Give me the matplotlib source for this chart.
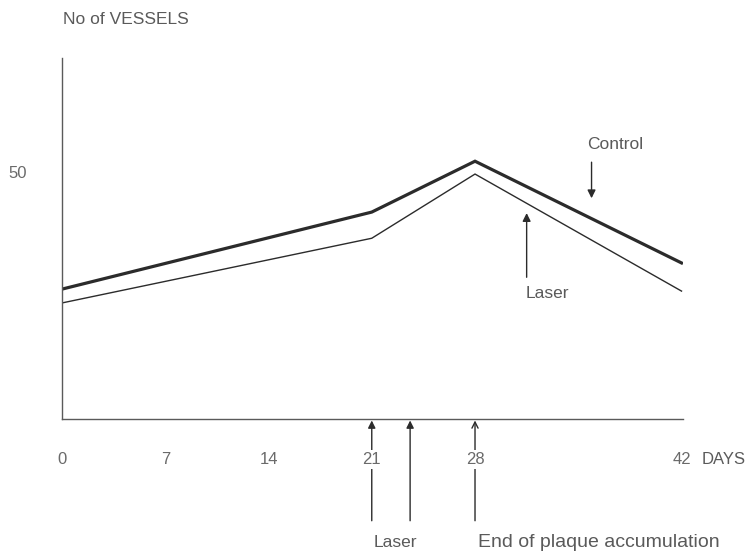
import numpy as np
from matplotlib import pyplot as plt

# values
days = [0, 21, 28, 42]
control = [26.3, 41.9, 52.2, 31.6]
laser = [23.5, 36.6, 49.6, 25.9]

x_ticks = [0, 7, 14, 21, 28, 42]
y_ticks = [50]

# event arrows under the time axis (day, head style)
events = [(21, '-|>'), (23.6, '-|>'), (28, '->')]

plt.rcParams['font.family'] = ['Liberation Sans', 'DejaVu Sans']
grey = '#5a5a5a'
ink = '#2b2b2b'

W, H = 747, 560
fig = plt.figure(figsize=(W / 100, H / 100), dpi=100)
ax = fig.add_axes([62 / W, 1 - 419 / H, (683 - 62) / W, (419 - 58) / H])

ax.plot(days, control, color=ink, lw=2.3, solid_joinstyle='miter')
ax.plot(days, laser, color=ink, lw=1.0, solid_joinstyle='miter')

ax.set_xlim(0, 42.1)
ax.set_ylim(0, 73.1)
for s in ['top', 'right']:
	ax.spines[s].set_visible(False)
for s in ['left', 'bottom']:
	ax.spines[s].set_color(grey)
	ax.spines[s].set_linewidth(1.0)

ax.set_xticks(x_ticks)
ax.set_yticks(y_ticks)
ax.tick_params(length=0, colors='#6a6a6a', labelsize=12)
ax.tick_params(axis='x', pad=23.5)
ax.tick_params(axis='y', pad=25)
for lab in ax.get_xticklabels():
	lab.set_bbox(dict(facecolor='white', edgecolor='none', pad=1.5))
	lab.set_zorder(5)

# arrows pointing at the curves
ax.annotate('', xy=(35.9, 44.7), xytext=(35.9, 52.0),
	arrowprops=dict(arrowstyle='-|>', color=ink, lw=1.0, mutation_scale=12, shrinkA=0, shrinkB=0))
ax.text(37.5, 55.5, 'Control', ha='center', va='center', color=grey, fontsize=12.5)
ax.annotate('', xy=(31.5, 41.7), xytext=(31.5, 28.7),
	arrowprops=dict(arrowstyle='-|>', color=ink, lw=1.0, mutation_scale=12, shrinkA=0, shrinkB=0))
ax.text(32.9, 25.5, 'Laser', ha='center', va='center', color=grey, fontsize=12.5)

# arrows under the axis
for d, style in events:
	ax.annotate('', xy=(d, -0.3), xytext=(d, -20.6), annotation_clip=False,
		arrowprops=dict(arrowstyle=style, color=ink, lw=1.0, mutation_scale=11, shrinkA=0, shrinkB=0),
		zorder=1)
ax.text(22.6, -25.1, 'Laser', ha='center', va='center', color=grey, fontsize=12.5, clip_on=False)
ax.text(28.2, -25.1, 'End of plaque accumulation', ha='left', va='center', color=grey,
	fontsize=14, clip_on=False)

fig.text(702 / W, 1 - 459 / H, 'DAYS', ha='left', va='center', color=grey, fontsize=12)
fig.text(63 / W, 1 - 20 / H, 'No of VESSELS', ha='left', va='center', color=grey, fontsize=12.5)

fig.savefig('out.png', dpi=100)
